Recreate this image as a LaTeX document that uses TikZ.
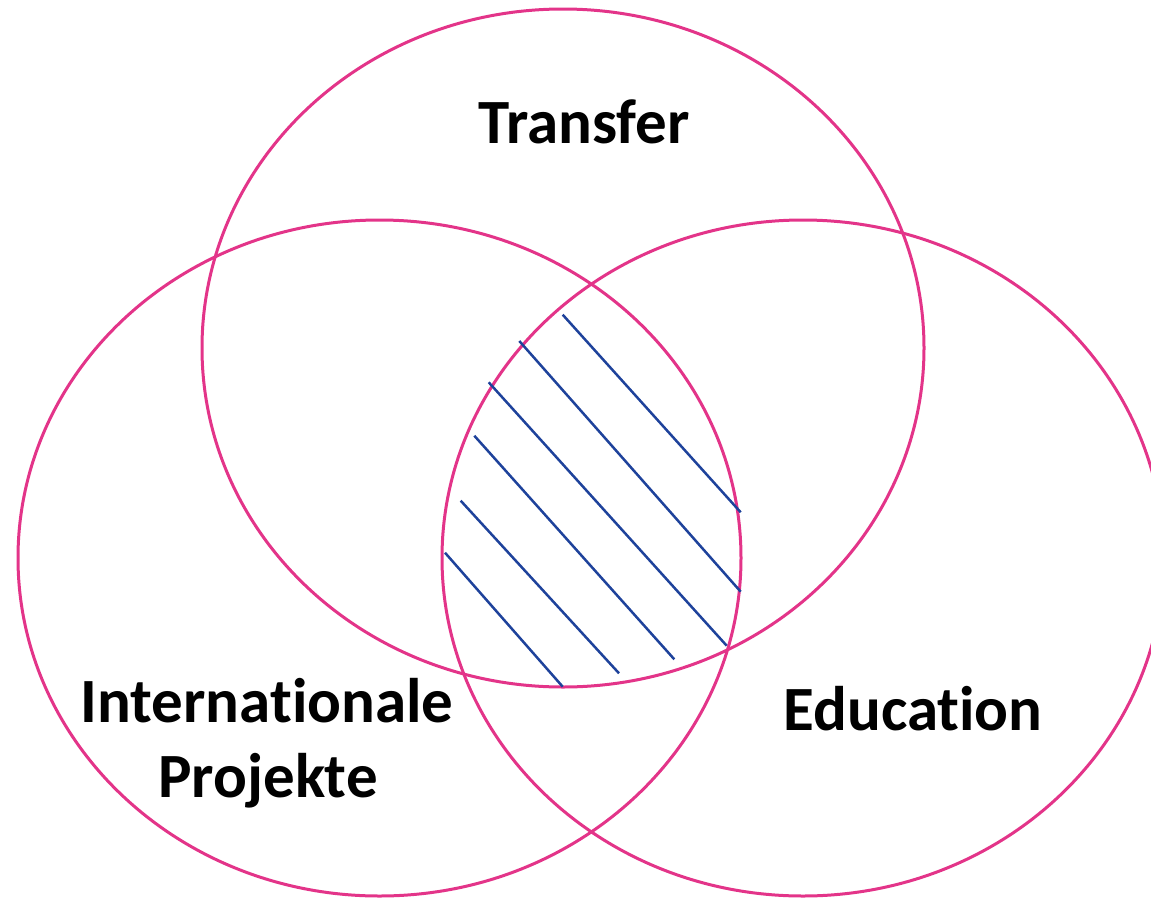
\documentclass[tikz,border=0pt]{standalone}
\usepackage{fontspec}
\setmainfont{Carlito}[Ligatures=NoCommon]
\usetikzlibrary{positioning}
\definecolor{vennpink}{RGB}{227,52,137}
\definecolor{hatchblue}{RGB}{30,66,155}
\tikzset{vennring/.style={draw=vennpink,line width=3pt},
  hatchline/.style={draw=hatchblue,line width=2.5pt},
  venntext/.style={font=\fontsize{63}{75}\selectfont\bfseries,inner sep=0pt}}

\begin{document}
\begin{tikzpicture}[x=1pt,y=-1pt]
\useasboundingbox (0,0) rectangle (1151,897);
\coordinate (T) at (563,348);
\coordinate (L) at (379.5,558);
\coordinate (R) at (803,558);
\draw[vennring] (T) ellipse[x radius=361,y radius=339];
\draw[vennring] (L) ellipse[x radius=361.5,y radius=338];
\draw[vennring] (R) ellipse[x radius=361,y radius=338];
\foreach \xa/\ya/\xb/\yb in {562.7/314.7/740.7/512.3,519.3/341/740.7/591.7,488.7/382.3/726.7/645.7,474.3/435.7/674.3/659.3,460.7/500.7/619/673.3,445/552.7/562.7/686.7}
  \draw[hatchline] (\xa,\ya) -- (\xb,\yb);
\node[venntext,anchor=base] (transfer) at (584,143) {Transfer};
\node[venntext,anchor=base] (intl) at (267,722) {Internationale};
\node[venntext,anchor=base] (proj) at (268,797) {Projekte};
\node[venntext,anchor=base] (edu) at (913,730) {Education};
\end{tikzpicture}
\end{document}
